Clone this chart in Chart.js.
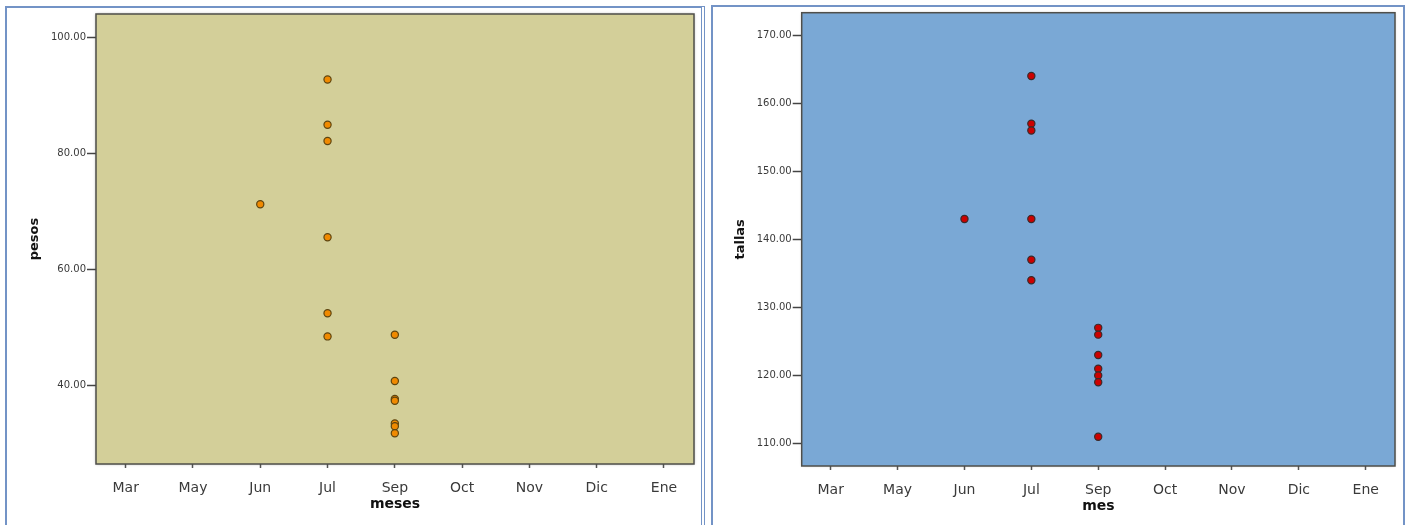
<!DOCTYPE html>
<html>
<head>
<meta charset="utf-8">
<script src="https://cdn.jsdelivr.net/npm/chart.js@4/dist/chart.umd.min.js"></script>
<style>
  html, body { margin: 0; padding: 0; background: #ffffff; overflow: hidden; }
  body { width: 1406px; height: 525px; position: relative; }
  .marco { position: absolute; border: 2px solid #7393c6; box-sizing: border-box; }
  canvas { position: absolute; top: 0; }
</style>
</head>
<body>
<div class="marco" style="left:5px; top:6px; width:700px; height:540px; border-right: 4px double #7393c6;"></div>
<div class="marco" style="left:711px; top:5px; width:694px; height:540px;"></div>
<canvas id="pesos" width="706" height="525" style="left:0px;"></canvas>
<canvas id="tallas" width="700" height="525" style="left:706px;"></canvas>
<script>
// Months on the horizontal axis
const meses = ['Mar', 'May', 'Jun', 'Jul', 'Sep', 'Oct', 'Nov', 'Dic', 'Ene'];

// Weight by month
const pesosMes   = ['Jun', 'Jul', 'Jul', 'Jul', 'Jul', 'Jul', 'Jul', 'Sep', 'Sep', 'Sep', 'Sep', 'Sep', 'Sep', 'Sep'];
const pesosValor = [71.2, 92.7, 84.9, 82.1, 65.5, 52.4, 48.4, 48.7, 40.7, 37.6, 37.3, 33.4, 32.9, 31.7];
const pesosTicks = [40, 60, 80, 100];

// Height by month
const tallasMes   = ['Jun', 'Jul', 'Jul', 'Jul', 'Jul', 'Jul', 'Jul', 'Sep', 'Sep', 'Sep', 'Sep', 'Sep', 'Sep', 'Sep'];
const tallasValor = [143, 164, 157, 156, 143, 137, 134, 127, 126, 123, 121, 120, 119, 111];
const tallasTicks = [110, 120, 130, 140, 150, 160, 170];

const FUENTE = "'DejaVu Sans', 'Liberation Sans', sans-serif";

// Fills the plot area and outlines it before the points are drawn
const fondoPlot = {
  id: 'fondoPlot',
  beforeDatasetsDraw(chart, args, opts) {
    const { ctx, chartArea: a } = chart;
    ctx.save();
    ctx.shadowColor = 'rgba(0,0,0,0.35)';
    ctx.shadowBlur = 3;
    ctx.fillStyle = opts.color;
    ctx.fillRect(a.left, a.top, a.width, a.height);
    ctx.shadowColor = 'transparent';
    ctx.strokeStyle = opts.borde;
    ctx.lineWidth = 1.5;
    ctx.strokeRect(a.left, a.top, a.width, a.height);
    ctx.restore();
  }
};

function puntos(mesesPunto, valores) {
  return valores.map((v, i) => ({ x: meses.indexOf(mesesPunto[i]), y: v }));
}

function crear(id, cfg) {
  return new Chart(document.getElementById(id), {
    type: 'scatter',
    data: {
      datasets: [{
        data: puntos(cfg.mesesPunto, cfg.valores),
        backgroundColor: cfg.relleno,
        borderColor: cfg.contorno,
        borderWidth: 1.2,
        pointRadius: 3.6,
        pointHoverRadius: 3.6
      }]
    },
    options: {
      responsive: false,
      animation: false,
      events: [],
      layout: { padding: { left: 0, right: cfg.padDer, top: cfg.padSup, bottom: 0 } },
      plugins: {
        legend: { display: false },
        tooltip: { enabled: false },
        fondoPlot: { color: cfg.fondo, borde: '#4f4f4a' }
      },
      scales: {
        x: {
          type: 'linear',
          min: cfg.xMin,
          max: cfg.xMax,
          afterBuildTicks: s => { s.ticks = meses.map((m, i) => ({ value: i })); },
          afterFit: s => { s.height = cfg.altoX; },
          ticks: {
            callback: v => meses[v] ?? '',
            font: { family: FUENTE, size: 14 },
            color: '#3a3a3a',
            padding: 12,
            maxRotation: 0,
            autoSkip: false
          },
          grid: { drawOnChartArea: false, drawTicks: true, tickLength: 4, tickColor: '#555555', tickWidth: 1.5 },
          border: { display: false },
          title: {
            display: true,
            text: cfg.tituloX,
            font: { family: FUENTE, size: 14, weight: 'bold' },
            color: '#111111',
            padding: { top: 0, bottom: cfg.padTituloX }
          }
        },
        y: {
          min: cfg.yMin,
          max: cfg.yMax,
          afterBuildTicks: s => { s.ticks = cfg.ticksY.map(v => ({ value: v })); },
          afterFit: s => { s.width = cfg.anchoY; },
          ticks: {
            callback: v => Number(v).toFixed(2),
            font: { family: FUENTE, size: 10 },
            color: '#3a3a3a',
            padding: 1
          },
          grid: { drawOnChartArea: false, drawTicks: true, tickLength: 9, tickColor: '#444444', tickWidth: 1.5 },
          border: { display: false },
          title: {
            display: true,
            text: cfg.tituloY,
            font: { family: FUENTE, size: 13, weight: 'bold' },
            color: '#111111',
            padding: { top: 27, bottom: 0 }
          }
        }
      }
    },
    plugins: [fondoPlot]
  });
}

crear('pesos', {
  mesesPunto: pesosMes,
  valores: pesosValor,
  ticksY: pesosTicks,
  yMin: 26.4, yMax: 104,
  xMin: -0.441, xMax: 8.446,
  anchoY: 96, altoX: 61, padDer: 12, padSup: 14, padTituloX: 12,
  fondo: '#d3cf99',
  relleno: '#f08a00',
  contorno: '#5e4510',
  tituloX: 'meses',
  tituloY: 'pesos'
});

crear('tallas', {
  mesesPunto: tallasMes,
  valores: tallasValor,
  ticksY: tallasTicks,
  yMin: 106.7, yMax: 173.3,
  xMin: -0.434, xMax: 8.438,
  anchoY: 95.7, altoX: 59, padDer: 11, padSup: 12.7, padTituloX: 10,
  fondo: '#7aa8d5',
  relleno: '#cc0000',
  contorno: '#3a2a2a',
  tituloX: 'mes',
  tituloY: 'tallas'
});
</script>
</body>
</html>
